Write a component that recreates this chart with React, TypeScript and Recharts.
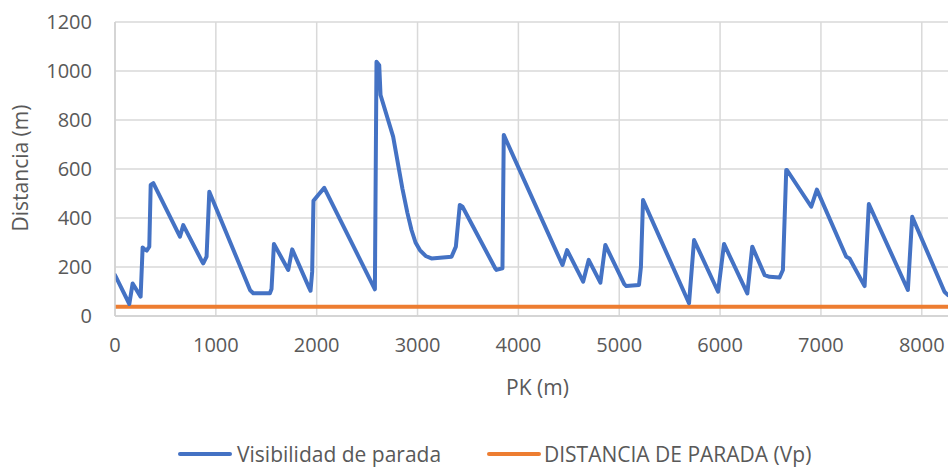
import React from "react";
import { LineChart, Line, XAxis, YAxis, CartesianGrid, Label } from "recharts";

const pkValues = [
  0, 142, 175, 254, 274, 300, 314, 340, 354, 380, 644, 677, 860, 875, 908, 935,
  1340, 1371, 1536, 1552, 1576, 1718, 1757, 1925, 1939, 1955, 1968, 2015, 2075, 2577, 2593,
  2620, 2633, 2758, 2850, 2900, 2940, 2980, 3023, 3080, 3138, 3337, 3380, 3419, 3446, 3770, 3782, 3842,
  3855, 4437, 4483, 4642, 4697, 4813, 4862, 5050, 5070, 5196, 5215, 5236, 5692, 5742,
  5980, 6039, 6270, 6319, 6442, 6491, 6590, 6623, 6656, 6663, 6904, 6960,
  7251, 7284, 7433, 7475, 7862, 7905, 8225, 8260,
];

const visibilidad = [
  167, 49, 133, 79, 280, 270, 267, 283, 535, 542, 324, 371, 225, 215, 242, 507,
  105, 93, 93, 110, 294, 188, 272, 115, 103, 180, 470, 494, 523, 109, 1038,
  1024, 902, 732, 520, 420, 351, 300, 269, 245, 235, 242, 283, 453, 446, 195, 188, 195,
  739, 208, 269, 140, 229, 136, 290, 130, 122, 127, 200, 473, 52, 310,
  99, 294, 92, 283, 167, 160, 157, 188, 596, 596, 446, 516,
  242, 235, 122, 457, 106, 405, 99, 85,
];

const distanciaParada = 38;

const xTicks = [0, 1000, 2000, 3000, 4000, 5000, 6000, 7000, 8000];
const yTicks = [0, 200, 400, 600, 800, 1000, 1200];

const seriesNames = ["Visibilidad de parada", "DISTANCIA DE PARADA (Vp)"];
const seriesColors = ["#4472C4", "#ED7D31"];

const data = pkValues.map((pk, i) => ({
  pk,
  vis: visibilidad[i],
  vp: distanciaParada,
}));

const FONT = "'Open Sans', sans-serif";
const TEXT = "#595959";

export default function App() {
  return (
    <div style={{ position: "absolute", left: 0, top: 0, width: 950, height: 468, fontFamily: FONT, background: "#fff" }}>
      <LineChart width={950} height={468} data={data} margin={{ top: 22, right: 2, left: 0, bottom: 0 }}>
        <CartesianGrid stroke="#d9d9d9" strokeWidth={1.5} verticalValues={xTicks} />
        <XAxis
          dataKey="pk"
          type="number"
          domain={[0, 8260]}
          ticks={xTicks}
          allowDataOverflow
          height={152}
          tickLine={false}
          tickSize={0}
          tickMargin={22}
          axisLine={{ stroke: "#d0d0d0", strokeWidth: 1.5 }}
          tick={{ fill: TEXT, fontSize: 20, fontFamily: FONT }}
        >
          <Label
            content={(props: any) => {
              const vb = props.viewBox || { x: 115, y: 316, width: 833, height: 152 };
              return (
                <text x={vb.x + vb.width / 2 + 6} y={vb.y + 79} textAnchor="middle" fill={TEXT} fontSize={21} fontFamily={FONT}>
                  PK (m)
                </text>
              );
            }}
          />
        </XAxis>
        <YAxis
          type="number"
          domain={[0, 1200]}
          ticks={yTicks}
          width={115}
          tickLine={false}
          tickSize={0}
          tickMargin={23}
          axisLine={{ stroke: "#d0d0d0", strokeWidth: 1.5 }}
          tick={{ fill: TEXT, fontSize: 20, fontFamily: FONT }}
        >
          <Label
            content={(props: any) => {
              const vb = props.viewBox || { x: 0, y: 22, width: 115, height: 294 };
              const cx = 28;
              const cy = vb.y + vb.height / 2 - 1;
              return (
                <text x={cx} y={cy} transform={`rotate(-90 ${cx} ${cy})`} textAnchor="middle" fill={TEXT} fontSize={21} fontFamily={FONT}>
                  Distancia (m)
                </text>
              );
            }}
          />
        </YAxis>
        <Line
          type="linear"
          dataKey="vp"
          stroke={seriesColors[1]}
          strokeWidth={4}
          dot={false}
          isAnimationActive={false}
        />
        <Line
          type="linear"
          dataKey="vis"
          stroke={seriesColors[0]}
          strokeWidth={4}
          dot={false}
          isAnimationActive={false}
          strokeLinejoin="round"
          strokeLinecap="round"
        />
      </LineChart>
      {[178, 487].map((left, i) => (
        <div
          key={i}
          style={{ position: "absolute", left, top: 440, display: "flex", alignItems: "center", whiteSpace: "nowrap" }}
        >
          <span style={{ display: "inline-block", width: 54, height: 4, background: seriesColors[i], borderRadius: 2, marginRight: i === 0 ? 5 : 3 }} />
          <span style={{ color: TEXT, fontSize: 21, fontFamily: FONT }}>{seriesNames[i]}</span>
        </div>
      ))}
    </div>
  );
}
